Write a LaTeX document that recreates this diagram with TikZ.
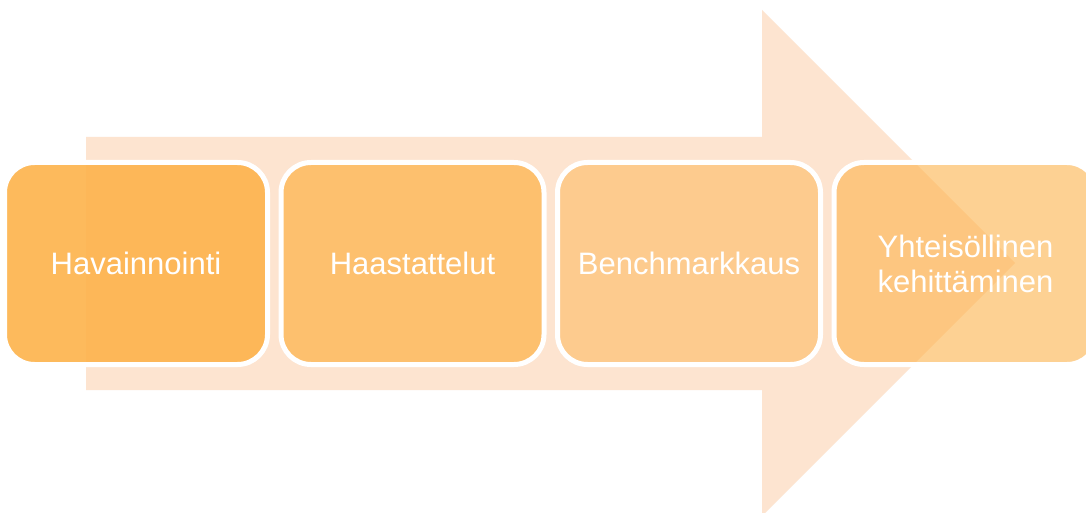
\documentclass[tikz,border=0pt]{standalone}
\usepackage{fontspec}
\setmainfont{Liberation Sans}
\usetikzlibrary{positioning}
\definecolor{peach}{RGB}{253,228,208}
\definecolor{stageorange}{RGB}{253,179,75}

\begin{document}
\begin{tikzpicture}
		[
		x = 1pt, y = -1pt,
		node distance = 13.5pt,
		stage/.style = {draw = white, line width = 5pt, rounded corners = 30pt, fill = stageorange,
			minimum width = 263pt, minimum height = 202pt, inner sep = 0pt, outer sep = 0pt,
			text = white, text opacity = 1, align = center, font = \fontsize{31}{35}\selectfont}
		]
		
		\clip (0,0) rectangle (1086,513);
		\fill[white] (0,0) rectangle (1086,513);
		\fill[peach] (86,137) -- (762,137) -- (762,10) -- (1015,263) -- (762,516) -- (762,390) -- (86,390) -- cycle;
		
		\node[stage, fill opacity = 0.9] (havainnointi) at (136,263.5) {Havainnointi};
		\node[stage, fill opacity = 0.73, right = of havainnointi] (haastattelut) {Haastattelut};
		\node[stage, fill opacity = 0.49, right = of haastattelut] (benchmarkkaus) {Benchmarkkaus};
		\node[stage, fill opacity = 0.6, right = of benchmarkkaus] (kehittaminen) {Yhteisöllinen\\kehittäminen};
		
		\end{tikzpicture}
\end{document}
